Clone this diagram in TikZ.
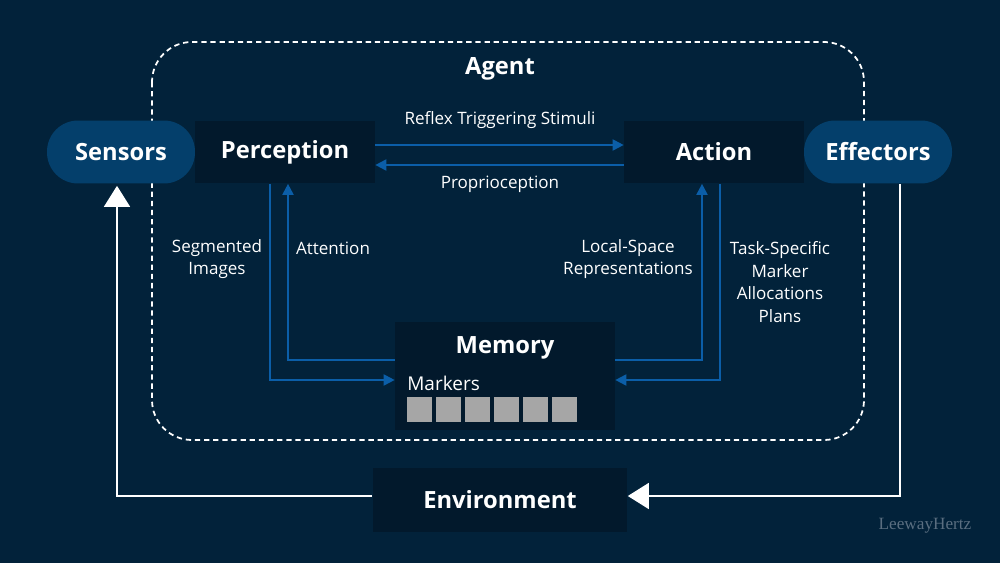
\documentclass[tikz,border=0pt]{standalone}
\usepackage{fontspec}
\setmainfont{Open Sans}
\newfontfamily\markfont{Liberation Serif}
\usetikzlibrary{arrows.meta}
\definecolor{bgc}{RGB}{2,34,58}
\definecolor{boxc}{RGB}{2,25,44}
\definecolor{pillc}{RGB}{4,63,107}
\definecolor{flowc}{RGB}{11,94,168}
\definecolor{markc}{RGB}{166,166,166}
\definecolor{wmc}{RGB}{90,110,128}

\begin{document}
\begin{tikzpicture}[x=0.02cm,y=-0.02cm,
  title/.style={text=white,font=\bfseries\fontsize{13.5}{16}\selectfont},
  box/.style={title,fill=boxc,minimum width=3.6cm,minimum height=1.26cm},
  pill/.style={title,fill=pillc,rounded corners=0.62cm,minimum width=2.96cm,minimum height=1.26cm},
  lbl/.style={text=white,align=center,font=\fontsize{9.7}{13}\selectfont},
  flow/.style={draw=flowc,line width=1.1pt,-{Triangle[length=0.22cm,width=0.22cm]}},
  back/.style={draw=white,line width=0.9pt,-{Triangle[length=0.42cm,width=0.52cm]}}]
\fill[bgc] (0,0) rectangle (1000,563);
\draw[white,line width=1pt,dash pattern=on 3pt off 2.2pt,rounded corners=0.8cm] (152,42) rectangle (864,440);
\path node (agent) at (500,69) [title] {Agent}
node (sen) at (121,152) [pill] {Sensors}
node (perc) at (285,152) [box] {Perception}
node (act) at (714,152) [box] {Action}
node (eff) at (878,152) [pill] {Effectors}
node (mem) at (505,376) [box,minimum width=4.4cm,minimum height=2.16cm] {}
node (env) at (500,500) [box,minimum width=5.1cm,minimum height=1.28cm] {Environment};
\path node (memt) at (505,348) [title] {Memory}
node (mark) at (407,383) [anchor=west,inner sep=0pt,text=white,font=\fontsize{10.8}{13}\selectfont] {Markers};
\foreach \i in {0,...,5}
  \fill[markc] (407+29*\i,397) rectangle +(25,25);
% agent-internal flows
\draw[flow] ([yshift=0.14cm]perc.east) -- ([yshift=0.14cm]act.west);
\draw[flow] ([yshift=-0.26cm]act.west) -- ([yshift=-0.26cm]perc.east);
\draw[flow] ([xshift=-0.3cm]perc.south) |- ([yshift=-0.08cm]mem.west);
\draw[flow] ([yshift=0.32cm]mem.west) -| ([xshift=0.06cm]perc.south);
\draw[flow] ([yshift=0.32cm]mem.east) -| ([xshift=-0.24cm]act.south);
\draw[flow] ([xshift=0.12cm]act.south) |- ([yshift=-0.08cm]mem.east);
% environment loop
\draw[back] ([yshift=0.08cm]env.west) -| ([xshift=-0.08cm,yshift=-0.04cm]sen.south);
\draw[back] ([xshift=0.44cm]eff.south) |- ([yshift=0.08cm]env.east);
\path node (reflex) at (500,120) [lbl] {Reflex Triggering Stimuli}
node (prop) at (500,184) [lbl] {Proprioception}
node (seg) at (217,259) [lbl] {Segmented\\Images}
node (att) at (333,248) [lbl] {Attention}
node (loc) at (628,259) [lbl] {Local-Space\\Representations}
node (task) at (780,282) [lbl] {Task-Specific\\Marker\\Allocations\\Plans}
node (wm) at (925,526) [text=wmc,font=\markfont\fontsize{9.8}{11}\selectfont] {LeewayHertz};
\end{tikzpicture}
\end{document}
